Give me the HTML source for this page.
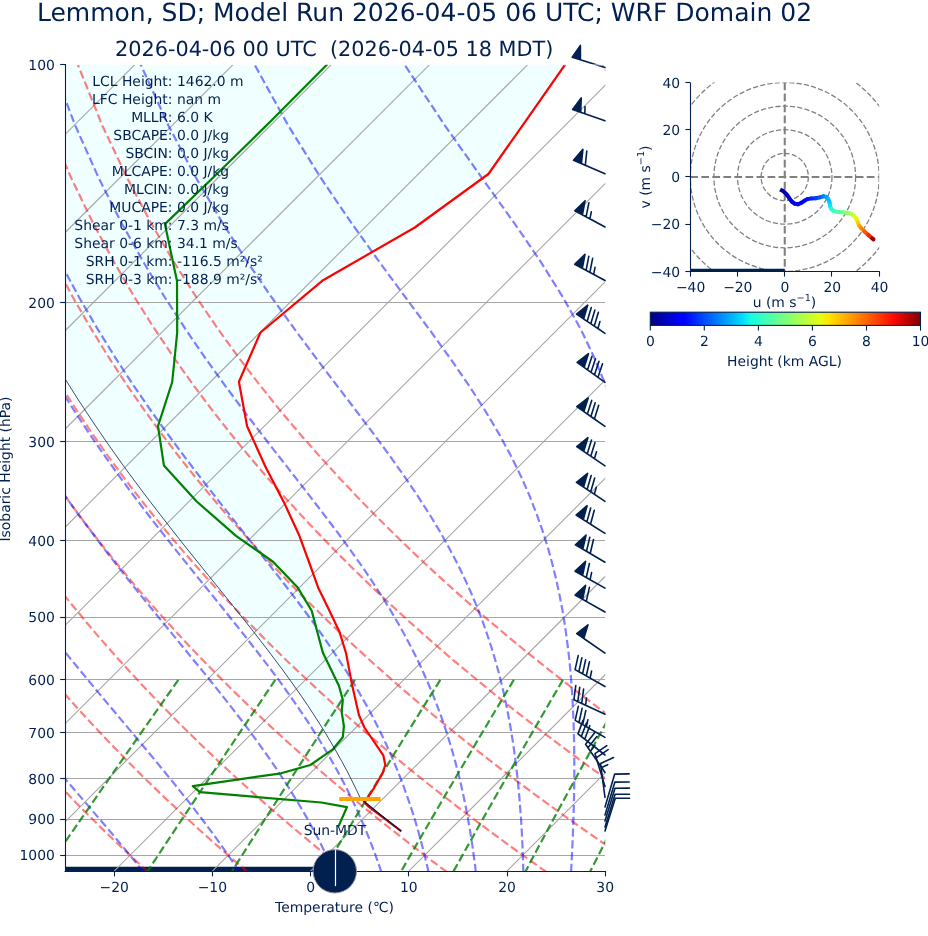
<!DOCTYPE html>
<html><head><meta charset="utf-8"><title>Skew-T</title><style>html,body{margin:0;padding:0;background:#fff}svg{display:block}text{text-rendering:geometricPrecision}</style></head><body>
<svg width="928" height="936" viewBox="0 0 928 936" font-family="DejaVu Sans, Liberation Sans, sans-serif" style="will-change:transform;opacity:0.9999">
<rect width="928" height="936" fill="#fff"/>
<defs><clipPath id="ax"><rect x="65.05" y="64.85" width="540.2" height="806.1999999999999"/></clipPath><clipPath id="hd"><rect x="690.3" y="82.5" width="188.9" height="188.9"/></clipPath><linearGradient id="jet" x1="0" x2="1" y1="0" y2="0"><stop offset="0" stop-color="#000080"/><stop offset="0.11" stop-color="#0000ff"/><stop offset="0.125" stop-color="#0000ff"/><stop offset="0.34" stop-color="#00dcfe"/><stop offset="0.375" stop-color="#17ffe0"/><stop offset="0.5" stop-color="#7dff7a"/><stop offset="0.625" stop-color="#e4ff13"/><stop offset="0.66" stop-color="#ffe600"/><stop offset="0.89" stop-color="#ff1300"/><stop offset="0.91" stop-color="#f10800"/><stop offset="1" stop-color="#800000"/></linearGradient></defs>
<g clip-path="url(#ax)">
<polygon points="565.5,64.0 525.8,120.8 488.4,174.0 414.8,227.5 323.1,280.2 260.5,332.5 238.9,381.7 247.1,426.2 265.1,466.0 284.0,502.4 299.4,535.8 309.0,562.0 318.1,587.4 329.1,610.0 339.4,631.7 346.0,653.0 352.0,684.4 358.9,715.0 364.4,727.5 383.3,755.3 385.3,765.0 382.5,773.3 374.2,787.8 367.1,798.5 360.5,798.5 356.1,789.2 351.5,779.9 346.8,770.6 341.8,761.4 336.6,752.1 331.2,742.8 325.7,733.5 319.9,724.2 313.9,714.9 307.8,705.6 301.5,696.3 295.0,687.1 288.4,677.8 281.6,668.5 274.6,659.2 267.6,649.9 260.4,640.6 253.2,631.3 245.9,622.1 238.5,612.8 231.0,603.5 223.6,594.2 216.1,584.9 208.6,575.6 201.1,566.3 193.6,557.0 186.2,547.8 178.8,538.5 171.5,529.2 164.3,519.9 157.1,510.6 149.9,501.3 142.9,492.0 136.0,482.8 129.1,473.5 122.3,464.2 115.7,454.9 109.1,445.6 102.7,436.3 96.3,427.0 90.1,417.7 84.0,408.5 77.9,399.2 72.0,389.9 66.2,380.6 60.5,371.3 55.0,362.0 49.5,352.7 44.1,343.5 38.9,334.2 33.8,324.9 28.7,315.6 23.8,306.3 19.0,297.0 14.3,287.7 9.7,278.4 5.2,269.2 0.8,259.9 -3.4,250.6 -7.6,241.3 -11.7,232.0 -15.7,222.7 -19.5,213.4 -23.3,204.2 -27.0,194.9 -30.5,185.6 -34.0,176.3 -37.4,167.0 -40.6,157.7 -43.8,148.4 -46.9,139.1 -49.9,129.9 -52.7,120.6 -55.5,111.3 -58.2,102.0 -60.9,92.7 -63.4,83.4 -65.8,74.1 -68.1,64.8" fill="#f0ffff"/>
<line x1="65.05" x2="335" y1="871.05" y2="871.05" stroke="#002050" stroke-width="8.6"/>
<line x1="65.05" x2="605.25" y1="302.5" y2="302.5" stroke="#a6a6a6" stroke-width="1.1"/>
<line x1="65.05" x2="605.25" y1="441.5" y2="441.5" stroke="#a6a6a6" stroke-width="1.1"/>
<line x1="65.05" x2="605.25" y1="540.5" y2="540.5" stroke="#a6a6a6" stroke-width="1.1"/>
<line x1="65.05" x2="605.25" y1="617.5" y2="617.5" stroke="#a6a6a6" stroke-width="1.1"/>
<line x1="65.05" x2="605.25" y1="679.5" y2="679.5" stroke="#a6a6a6" stroke-width="1.1"/>
<line x1="65.05" x2="605.25" y1="732.5" y2="732.5" stroke="#a6a6a6" stroke-width="1.1"/>
<line x1="65.05" x2="605.25" y1="778.5" y2="778.5" stroke="#a6a6a6" stroke-width="1.1"/>
<line x1="65.05" x2="605.25" y1="819.5" y2="819.5" stroke="#a6a6a6" stroke-width="1.1"/>
<line x1="65.05" x2="605.25" y1="855.5" y2="855.5" stroke="#a6a6a6" stroke-width="1.1"/>
<line x1="-868.0" y1="871.05" x2="-61.8" y2="64.85" stroke="#a6a6a6" stroke-width="1.1"/>
<line x1="-769.8" y1="871.05" x2="36.4" y2="64.85" stroke="#a6a6a6" stroke-width="1.1"/>
<line x1="-671.6" y1="871.05" x2="134.6" y2="64.85" stroke="#a6a6a6" stroke-width="1.1"/>
<line x1="-573.4" y1="871.05" x2="232.8" y2="64.85" stroke="#a6a6a6" stroke-width="1.1"/>
<line x1="-475.2" y1="871.05" x2="331.0" y2="64.85" stroke="#a6a6a6" stroke-width="1.1"/>
<line x1="-376.9" y1="871.05" x2="429.3" y2="64.85" stroke="#a6a6a6" stroke-width="1.1"/>
<line x1="-278.7" y1="871.05" x2="527.5" y2="64.85" stroke="#a6a6a6" stroke-width="1.1"/>
<line x1="-180.5" y1="871.05" x2="625.7" y2="64.85" stroke="#a6a6a6" stroke-width="1.1"/>
<line x1="-82.3" y1="871.05" x2="723.9" y2="64.85" stroke="#a6a6a6" stroke-width="1.1"/>
<line x1="15.9" y1="871.05" x2="822.1" y2="64.85" stroke="#a6a6a6" stroke-width="1.1"/>
<line x1="114.2" y1="871.05" x2="920.4" y2="64.85" stroke="#a6a6a6" stroke-width="1.1"/>
<line x1="212.4" y1="871.05" x2="1018.6" y2="64.85" stroke="#a6a6a6" stroke-width="1.1"/>
<line x1="310.6" y1="871.05" x2="1116.8" y2="64.85" stroke="#a6a6a6" stroke-width="1.1"/>
<line x1="408.8" y1="871.05" x2="1215.0" y2="64.85" stroke="#a6a6a6" stroke-width="1.1"/>
<line x1="507.0" y1="871.05" x2="1313.2" y2="64.85" stroke="#a6a6a6" stroke-width="1.1"/>
<line x1="605.2" y1="871.05" x2="1411.4" y2="64.85" stroke="#a6a6a6" stroke-width="1.1"/>
<line x1="703.5" y1="871.05" x2="1509.7" y2="64.85" stroke="#a6a6a6" stroke-width="1.1"/>
<polyline points="-51.1,872.0 -57.0,865.6 -63.0,859.1 -69.0,852.4 -75.1,845.7 -81.2,838.7 -87.4,831.7 -93.6,824.5 -99.9,817.1 -106.2,809.6 -112.6,801.9 -119.0,794.1 -125.5,786.0 -132.0,777.8 -138.6,769.3 -145.3,760.7 -152.0,751.8 -158.7,742.7 -165.5,733.3 -172.4,723.7 -179.4,713.8 -186.4,703.6 -193.5,693.1 -200.6,682.2 -207.8,671.0 -215.0,659.5 -222.4,647.5 -229.8,635.1 -237.2,622.2 -244.7,608.8 -252.3,594.9 -259.9,580.4 -267.6,565.2 -275.3,549.4 -283.1,532.7 -290.9,515.3 -298.7,496.9 -306.6,477.4 -314.4,456.8 -322.2,434.9 -329.9,411.5 -337.6,386.3 -345.0,359.2 -352.3,329.7 -359.2,297.5 -365.6,261.9 -371.3,222.2 -376.0,177.3 -379.2,125.7 -380.0,64.8" fill="none" stroke="#ff0000" stroke-opacity="0.5" stroke-width="2.2" stroke-dasharray="8.2 3.6"/>
<polyline points="48.5,872.0 42.1,865.6 35.5,859.1 29.0,852.4 22.3,845.7 15.7,838.7 8.9,831.7 2.1,824.5 -4.7,817.1 -11.6,809.6 -18.6,801.9 -25.7,794.1 -32.8,786.0 -39.9,777.8 -47.2,769.3 -54.5,760.7 -61.8,751.8 -69.3,742.7 -76.8,733.3 -84.4,723.7 -92.1,713.8 -99.8,703.6 -107.6,693.1 -115.5,682.2 -123.5,671.0 -131.6,659.5 -139.8,647.5 -148.0,635.1 -156.3,622.2 -164.7,608.8 -173.2,594.9 -181.8,580.4 -190.4,565.2 -199.2,549.4 -208.0,532.7 -216.9,515.3 -225.8,496.9 -234.8,477.4 -243.9,456.8 -253.0,434.9 -262.0,411.5 -271.1,386.3 -280.0,359.2 -288.9,329.7 -297.4,297.5 -305.7,261.9 -313.3,222.2 -320.2,177.3 -325.7,125.7 -329.1,64.8" fill="none" stroke="#ff0000" stroke-opacity="0.5" stroke-width="2.2" stroke-dasharray="8.2 3.6"/>
<polyline points="148.1,872.0 141.1,865.6 134.1,859.1 127.0,852.4 119.8,845.7 112.5,838.7 105.2,831.7 97.9,824.5 90.4,817.1 82.9,809.6 75.3,801.9 67.7,794.1 60.0,786.0 52.2,777.8 44.3,769.3 36.3,760.7 28.3,751.8 20.1,742.7 11.9,733.3 3.6,723.7 -4.8,713.8 -13.2,703.6 -21.8,693.1 -30.5,682.2 -39.3,671.0 -48.2,659.5 -57.1,647.5 -66.2,635.1 -75.4,622.2 -84.7,608.8 -94.1,594.9 -103.6,580.4 -113.3,565.2 -123.0,549.4 -132.9,532.7 -142.9,515.3 -152.9,496.9 -163.1,477.4 -173.4,456.8 -183.7,434.9 -194.1,411.5 -204.6,386.3 -215.0,359.2 -225.4,329.7 -235.7,297.5 -245.7,261.9 -255.4,222.2 -264.3,177.3 -272.2,125.7 -278.2,64.8" fill="none" stroke="#ff0000" stroke-opacity="0.5" stroke-width="2.2" stroke-dasharray="8.2 3.6"/>
<polyline points="247.7,872.0 240.2,865.6 232.6,859.1 224.9,852.4 217.2,845.7 209.4,838.7 201.5,831.7 193.6,824.5 185.6,817.1 177.5,809.6 169.3,801.9 161.0,794.1 152.7,786.0 144.2,777.8 135.7,769.3 127.1,760.7 118.4,751.8 109.6,742.7 100.7,733.3 91.7,723.7 82.5,713.8 73.3,703.6 64.0,693.1 54.5,682.2 45.0,671.0 35.3,659.5 25.5,647.5 15.6,635.1 5.5,622.2 -4.7,608.8 -15.0,594.9 -25.5,580.4 -36.1,565.2 -46.9,549.4 -57.8,532.7 -68.9,515.3 -80.1,496.9 -91.4,477.4 -102.9,456.8 -114.5,434.9 -126.3,411.5 -138.1,386.3 -150.0,359.2 -162.0,329.7 -174.0,297.5 -185.8,261.9 -197.4,222.2 -208.4,177.3 -218.6,125.7 -227.3,64.8" fill="none" stroke="#ff0000" stroke-opacity="0.5" stroke-width="2.2" stroke-dasharray="8.2 3.6"/>
<polyline points="347.3,872.0 339.3,865.6 331.1,859.1 322.9,852.4 314.7,845.7 306.3,838.7 297.9,831.7 289.3,824.5 280.7,817.1 272.0,809.6 263.2,801.9 254.4,794.1 245.4,786.0 236.3,777.8 227.2,769.3 217.9,760.7 208.5,751.8 199.0,742.7 189.4,733.3 179.7,723.7 169.9,713.8 159.9,703.6 149.8,693.1 139.6,682.2 129.2,671.0 118.7,659.5 108.1,647.5 97.3,635.1 86.4,622.2 75.3,608.8 64.0,594.9 52.6,580.4 41.0,565.2 29.3,549.4 17.3,532.7 5.2,515.3 -7.2,496.9 -19.7,477.4 -32.4,456.8 -45.3,434.9 -58.4,411.5 -71.6,386.3 -85.1,359.2 -98.6,329.7 -112.2,297.5 -125.9,261.9 -139.4,222.2 -152.6,177.3 -165.1,125.7 -176.5,64.8" fill="none" stroke="#ff0000" stroke-opacity="0.5" stroke-width="2.2" stroke-dasharray="8.2 3.6"/>
<polyline points="446.9,872.0 438.3,865.6 429.7,859.1 420.9,852.4 412.1,845.7 403.2,838.7 394.2,831.7 385.1,824.5 375.9,817.1 366.6,809.6 357.2,801.9 347.7,794.1 338.1,786.0 328.4,777.8 318.6,769.3 308.7,760.7 298.6,751.8 288.4,742.7 278.1,733.3 267.7,723.7 257.2,713.8 246.5,703.6 235.6,693.1 224.6,682.2 213.5,671.0 202.2,659.5 190.7,647.5 179.1,635.1 167.3,622.2 155.3,608.8 143.1,594.9 130.7,580.4 118.2,565.2 105.4,549.4 92.4,532.7 79.2,515.3 65.7,496.9 52.0,477.4 38.1,456.8 23.9,434.9 9.5,411.5 -5.2,386.3 -20.1,359.2 -35.2,329.7 -50.5,297.5 -65.9,261.9 -81.4,222.2 -96.7,177.3 -111.6,125.7 -125.6,64.8" fill="none" stroke="#ff0000" stroke-opacity="0.5" stroke-width="2.2" stroke-dasharray="8.2 3.6"/>
<polyline points="546.5,872.0 537.4,865.6 528.2,859.1 518.9,852.4 509.5,845.7 500.1,838.7 490.5,831.7 480.8,824.5 471.0,817.1 461.2,809.6 451.2,801.9 441.1,794.1 430.8,786.0 420.5,777.8 410.0,769.3 399.4,760.7 388.7,751.8 377.9,742.7 366.9,733.3 355.8,723.7 344.5,713.8 333.0,703.6 321.4,693.1 309.7,682.2 297.7,671.0 285.6,659.5 273.3,647.5 260.9,635.1 248.2,622.2 235.3,608.8 222.2,594.9 208.9,580.4 195.3,565.2 181.5,549.4 167.5,532.7 153.2,515.3 138.6,496.9 123.7,477.4 108.6,456.8 93.1,434.9 77.4,411.5 61.3,386.3 44.9,359.2 28.2,329.7 11.3,297.5 -6.0,261.9 -23.4,222.2 -40.8,177.3 -58.1,125.7 -74.7,64.8" fill="none" stroke="#ff0000" stroke-opacity="0.5" stroke-width="2.2" stroke-dasharray="8.2 3.6"/>
<polyline points="646.1,872.0 636.5,865.6 626.7,859.1 616.9,852.4 607.0,845.7 596.9,838.7 586.8,831.7 576.5,824.5 566.2,817.1 555.7,809.6 545.1,801.9 534.4,794.1 523.6,786.0 512.6,777.8 501.5,769.3 490.2,760.7 478.8,751.8 467.3,742.7 455.6,733.3 443.8,723.7 431.8,713.8 419.6,703.6 407.3,693.1 394.7,682.2 382.0,671.0 369.1,659.5 356.0,647.5 342.6,635.1 329.1,622.2 315.3,608.8 301.3,594.9 287.0,580.4 272.5,565.2 257.7,549.4 242.6,532.7 227.2,515.3 211.5,496.9 195.5,477.4 179.1,456.8 162.4,434.9 145.3,411.5 127.8,386.3 109.9,359.2 91.7,329.7 73.0,297.5 54.0,261.9 34.6,222.2 15.0,177.3 -4.6,125.7 -23.9,64.8" fill="none" stroke="#ff0000" stroke-opacity="0.5" stroke-width="2.2" stroke-dasharray="8.2 3.6"/>
<polyline points="745.7,872.0 735.5,865.6 725.3,859.1 714.9,852.4 704.4,845.7 693.8,838.7 683.1,831.7 672.3,824.5 661.3,817.1 650.3,809.6 639.1,801.9 627.7,794.1 616.3,786.0 604.7,777.8 592.9,769.3 581.0,760.7 569.0,751.8 556.7,742.7 544.4,733.3 531.8,723.7 519.1,713.8 506.2,703.6 493.1,693.1 479.8,682.2 466.3,671.0 452.5,659.5 438.6,647.5 424.4,635.1 410.0,622.2 395.3,608.8 380.4,594.9 365.1,580.4 349.6,565.2 333.8,549.4 317.7,532.7 301.2,515.3 284.4,496.9 267.2,477.4 249.6,456.8 231.6,434.9 213.2,411.5 194.3,386.3 174.9,359.2 155.1,329.7 134.7,297.5 113.9,261.9 92.6,222.2 70.9,177.3 48.9,125.7 27.0,64.8" fill="none" stroke="#ff0000" stroke-opacity="0.5" stroke-width="2.2" stroke-dasharray="8.2 3.6"/>
<polyline points="845.3,872.0 834.6,865.6 823.8,859.1 812.9,852.4 801.8,845.7 790.7,838.7 779.4,831.7 768.0,824.5 756.5,817.1 744.8,809.6 733.0,801.9 721.1,794.1 709.0,786.0 696.7,777.8 684.4,769.3 671.8,760.7 659.1,751.8 646.2,742.7 633.1,733.3 619.8,723.7 606.4,713.8 592.7,703.6 578.9,693.1 564.8,682.2 550.5,671.0 536.0,659.5 521.2,647.5 506.2,635.1 490.9,622.2 475.3,608.8 459.4,594.9 443.3,580.4 426.8,565.2 410.0,549.4 392.8,532.7 375.2,515.3 357.3,496.9 338.9,477.4 320.1,456.8 300.8,434.9 281.0,411.5 260.8,386.3 239.9,359.2 218.5,329.7 196.5,297.5 173.8,261.9 150.6,222.2 126.8,177.3 102.4,125.7 77.9,64.8" fill="none" stroke="#ff0000" stroke-opacity="0.5" stroke-width="2.2" stroke-dasharray="8.2 3.6"/>
<polyline points="-52.0,872.0 -57.5,865.6 -63.2,859.1 -68.9,852.4 -74.7,845.7 -80.5,838.7 -86.5,831.7 -92.5,824.5 -98.6,817.1 -104.7,809.6 -111.0,801.9 -117.2,794.1 -123.6,786.0 -130.1,777.8 -136.6,769.3 -143.1,760.7 -149.8,751.8 -156.5,742.7 -163.3,733.3 -170.1,723.7 -177.1,713.8 -184.0,703.6 -191.1,693.1 -198.2,682.2 -205.4,671.0 -212.7,659.5 -220.0,647.5 -227.4,635.1 -234.9,622.2 -242.4,608.8 -250.0,594.9 -257.7,580.4 -265.4,565.2 -273.1,549.4 -280.9,532.7 -288.8,515.3 -296.6,496.9 -304.5,477.4 -312.3,456.8 -320.2,434.9 -328.0,411.5 -335.6,386.3 -343.2,359.2 -350.4,329.7 -357.4,297.5 -363.9,261.9 -369.7,222.2 -374.4,177.3 -377.6,125.7 -378.5,64.8" fill="none" stroke="#0000ff" stroke-opacity="0.5" stroke-width="2.2" stroke-dasharray="8.2 3.6"/>
<polyline points="46.4,872.0 40.8,865.6 35.1,859.1 29.3,852.4 23.4,845.7 17.3,838.7 11.2,831.7 4.9,824.5 -1.4,817.1 -7.9,809.6 -14.5,801.9 -21.1,794.1 -27.9,786.0 -34.8,777.8 -41.8,769.3 -48.9,760.7 -56.1,751.8 -63.4,742.7 -70.8,733.3 -78.2,723.7 -85.8,713.8 -93.5,703.6 -101.3,693.1 -109.2,682.2 -117.2,671.0 -125.2,659.5 -133.4,647.5 -141.7,635.1 -150.0,622.2 -158.5,608.8 -167.0,594.9 -175.6,580.4 -184.4,565.2 -193.2,549.4 -202.1,532.7 -211.0,515.3 -220.1,496.9 -229.2,477.4 -238.3,456.8 -247.5,434.9 -256.7,411.5 -265.8,386.3 -274.9,359.2 -283.9,329.7 -292.6,297.5 -300.9,261.9 -308.8,222.2 -315.8,177.3 -321.4,125.7 -325.1,64.8" fill="none" stroke="#0000ff" stroke-opacity="0.5" stroke-width="2.2" stroke-dasharray="8.2 3.6"/>
<polyline points="143.6,872.0 138.4,865.6 133.1,859.1 127.6,852.4 122.0,845.7 116.2,838.7 110.3,831.7 104.2,824.5 97.9,817.1 91.5,809.6 84.9,801.9 78.2,794.1 71.3,786.0 64.2,777.8 57.0,769.3 49.6,760.7 42.1,751.8 34.4,742.7 26.6,733.3 18.6,723.7 10.4,713.8 2.2,703.6 -6.3,693.1 -14.8,682.2 -23.5,671.0 -32.4,659.5 -41.4,647.5 -50.5,635.1 -59.7,622.2 -69.1,608.8 -78.7,594.9 -88.3,580.4 -98.1,565.2 -108.0,549.4 -118.1,532.7 -128.2,515.3 -138.5,496.9 -148.9,477.4 -159.4,456.8 -170.0,434.9 -180.7,411.5 -191.4,386.3 -202.2,359.2 -212.9,329.7 -223.5,297.5 -233.9,261.9 -243.9,222.2 -253.2,177.3 -261.6,125.7 -268.1,64.8" fill="none" stroke="#0000ff" stroke-opacity="0.5" stroke-width="2.2" stroke-dasharray="8.2 3.6"/>
<polyline points="239.4,872.0 235.2,865.6 230.8,859.1 226.2,852.4 221.5,845.7 216.5,838.7 211.4,831.7 206.0,824.5 200.5,817.1 194.7,809.6 188.7,801.9 182.5,794.1 176.1,786.0 169.4,777.8 162.5,769.3 155.4,760.7 148.0,751.8 140.4,742.7 132.6,733.3 124.5,723.7 116.2,713.8 107.6,703.6 98.9,693.1 89.8,682.2 80.6,671.0 71.1,659.5 61.5,647.5 51.6,635.1 41.5,622.2 31.1,608.8 20.6,594.9 9.9,580.4 -1.0,565.2 -12.1,549.4 -23.4,532.7 -34.9,515.3 -46.6,496.9 -58.4,477.4 -70.4,456.8 -82.6,434.9 -95.0,411.5 -107.5,386.3 -120.1,359.2 -132.8,329.7 -145.5,297.5 -158.2,261.9 -170.6,222.2 -182.7,177.3 -194.0,125.7 -203.9,64.8" fill="none" stroke="#0000ff" stroke-opacity="0.5" stroke-width="2.2" stroke-dasharray="8.2 3.6"/>
<polyline points="334.2,872.0 331.3,865.6 328.2,859.1 325.0,852.4 321.7,845.7 318.2,838.7 314.4,831.7 310.5,824.5 306.4,817.1 302.1,809.6 297.5,801.9 292.7,794.1 287.7,786.0 282.4,777.8 276.8,769.3 270.9,760.7 264.6,751.8 258.1,742.7 251.3,733.3 244.1,723.7 236.5,713.8 228.6,703.6 220.3,693.1 211.6,682.2 202.6,671.0 193.1,659.5 183.3,647.5 173.2,635.1 162.6,622.2 151.7,608.8 140.4,594.9 128.8,580.4 116.9,565.2 104.6,549.4 92.0,532.7 79.0,515.3 65.8,496.9 52.3,477.4 38.5,456.8 24.4,434.9 10.0,411.5 -4.6,386.3 -19.5,359.2 -34.7,329.7 -50.0,297.5 -65.4,261.9 -80.9,222.2 -96.2,177.3 -111.2,125.7 -125.2,64.8" fill="none" stroke="#0000ff" stroke-opacity="0.5" stroke-width="2.2" stroke-dasharray="8.2 3.6"/>
<polyline points="381.3,872.0 379.2,865.6 376.9,859.1 374.5,852.4 371.9,845.7 369.2,838.7 366.4,831.7 363.4,824.5 360.2,817.1 356.8,809.6 353.2,801.9 349.4,794.1 345.4,786.0 341.1,777.8 336.5,769.3 331.7,760.7 326.5,751.8 321.1,742.7 315.2,733.3 309.1,723.7 302.5,713.8 295.5,703.6 288.1,693.1 280.3,682.2 272.0,671.0 263.2,659.5 253.9,647.5 244.2,635.1 233.9,622.2 223.2,608.8 212.0,594.9 200.2,580.4 188.0,565.2 175.3,549.4 162.2,532.7 148.6,515.3 134.6,496.9 120.2,477.4 105.4,456.8 90.2,434.9 74.7,411.5 58.7,386.3 42.5,359.2 25.9,329.7 9.0,297.5 -8.2,261.9 -25.5,222.2 -42.9,177.3 -60.1,125.7 -76.6,64.8" fill="none" stroke="#0000ff" stroke-opacity="0.5" stroke-width="2.2" stroke-dasharray="8.2 3.6"/>
<polyline points="428.5,872.0 427.1,865.6 425.5,859.1 423.9,852.4 422.2,845.7 420.3,838.7 418.4,831.7 416.3,824.5 414.1,817.1 411.7,809.6 409.1,801.9 406.4,794.1 403.5,786.0 400.4,777.8 397.0,769.3 393.4,760.7 389.6,751.8 385.5,742.7 381.0,733.3 376.2,723.7 371.1,713.8 365.5,703.6 359.5,693.1 353.1,682.2 346.2,671.0 338.7,659.5 330.7,647.5 322.2,635.1 313.0,622.2 303.1,608.8 292.6,594.9 281.4,580.4 269.6,565.2 257.0,549.4 243.8,532.7 230.0,515.3 215.5,496.9 200.3,477.4 184.6,456.8 168.3,434.9 151.5,411.5 134.1,386.3 116.3,359.2 98.0,329.7 79.2,297.5 60.0,261.9 40.5,222.2 20.7,177.3 0.8,125.7 -18.7,64.8" fill="none" stroke="#0000ff" stroke-opacity="0.5" stroke-width="2.2" stroke-dasharray="8.2 3.6"/>
<polyline points="475.8,872.0 475.1,865.6 474.2,859.1 473.3,852.4 472.4,845.7 471.3,838.7 470.2,831.7 469.0,824.5 467.7,817.1 466.3,809.6 464.8,801.9 463.1,794.1 461.3,786.0 459.4,777.8 457.3,769.3 455.0,760.7 452.5,751.8 449.8,742.7 446.9,733.3 443.7,723.7 440.2,713.8 436.4,703.6 432.3,693.1 427.7,682.2 422.7,671.0 417.3,659.5 411.3,647.5 404.7,635.1 397.5,622.2 389.6,608.8 380.9,594.9 371.5,580.4 361.2,565.2 349.9,549.4 337.7,532.7 324.6,515.3 310.4,496.9 295.3,477.4 279.2,456.8 262.2,434.9 244.3,411.5 225.6,386.3 206.1,359.2 185.9,329.7 164.9,297.5 143.3,261.9 121.1,222.2 98.4,177.3 75.3,125.7 52.1,64.8" fill="none" stroke="#0000ff" stroke-opacity="0.5" stroke-width="2.2" stroke-dasharray="8.2 3.6"/>
<polyline points="523.3,872.0 523.2,865.6 523.0,859.1 522.7,852.4 522.5,845.7 522.1,838.7 521.8,831.7 521.4,824.5 520.9,817.1 520.3,809.6 519.7,801.9 519.1,794.1 518.3,786.0 517.5,777.8 516.5,769.3 515.5,760.7 514.3,751.8 513.0,742.7 511.5,733.3 509.9,723.7 508.0,713.8 506.0,703.6 503.7,693.1 501.2,682.2 498.3,671.0 495.1,659.5 491.5,647.5 487.4,635.1 482.9,622.2 477.8,608.8 472.0,594.9 465.5,580.4 458.2,565.2 449.9,549.4 440.6,532.7 430.1,515.3 418.3,496.9 405.1,477.4 390.5,456.8 374.4,434.9 356.7,411.5 337.5,386.3 316.9,359.2 295.0,329.7 271.8,297.5 247.4,261.9 222.1,222.2 195.7,177.3 168.5,125.7 140.8,64.8" fill="none" stroke="#0000ff" stroke-opacity="0.5" stroke-width="2.2" stroke-dasharray="8.2 3.6"/>
<polyline points="571.1,872.0 571.4,865.6 571.7,859.1 572.1,852.4 572.4,845.7 572.7,838.7 573.0,831.7 573.2,824.5 573.5,817.1 573.7,809.6 573.9,801.9 574.1,794.1 574.2,786.0 574.3,777.8 574.3,769.3 574.3,760.7 574.2,751.8 574.1,742.7 573.9,733.3 573.6,723.7 573.2,713.8 572.7,703.6 572.1,693.1 571.3,682.2 570.4,671.0 569.3,659.5 567.9,647.5 566.3,635.1 564.4,622.2 562.2,608.8 559.5,594.9 556.4,580.4 552.7,565.2 548.4,549.4 543.2,532.7 537.1,515.3 530.0,496.9 521.5,477.4 511.4,456.8 499.6,434.9 485.7,411.5 469.5,386.3 450.8,359.2 429.5,329.7 405.6,297.5 379.3,261.9 350.9,222.2 320.4,177.3 288.3,125.7 254.7,64.8" fill="none" stroke="#0000ff" stroke-opacity="0.5" stroke-width="2.2" stroke-dasharray="8.2 3.6"/>
<polyline points="619.0,872.0 619.8,865.6 620.6,859.1 621.4,852.4 622.2,845.7 623.0,838.7 623.8,831.7 624.6,824.5 625.5,817.1 626.3,809.6 627.1,801.9 628.0,794.1 628.8,786.0 629.7,777.8 630.5,769.3 631.3,760.7 632.2,751.8 633.0,742.7 633.8,733.3 634.6,723.7 635.3,713.8 636.1,703.6 636.8,693.1 637.4,682.2 638.0,671.0 638.6,659.5 639.0,647.5 639.4,635.1 639.7,622.2 639.8,608.8 639.7,594.9 639.5,580.4 639.0,565.2 638.2,549.4 637.0,532.7 635.3,515.3 633.1,496.9 630.1,477.4 626.2,456.8 621.1,434.9 614.5,411.5 606.0,386.3 595.0,359.2 581.0,329.7 563.1,297.5 540.8,261.9 513.6,222.2 481.5,177.3 445.0,125.7 404.7,64.8" fill="none" stroke="#0000ff" stroke-opacity="0.5" stroke-width="2.2" stroke-dasharray="8.2 3.6"/>
<polyline points="667.2,872.0 668.3,865.6 669.5,859.1 670.7,852.4 671.9,845.7 673.1,838.7 674.3,831.7 675.6,824.5 676.9,817.1 678.2,809.6 679.5,801.9 680.9,794.1 682.3,786.0 683.7,777.8 685.2,769.3 686.7,760.7 688.2,751.8 689.7,742.7 691.3,733.3 692.9,723.7 694.6,713.8 696.2,703.6 697.9,693.1 699.6,682.2 701.4,671.0 703.2,659.5 704.9,647.5 706.8,635.1 708.6,622.2 710.4,608.8 712.3,594.9 714.1,580.4 715.9,565.2 717.6,549.4 719.3,532.7 720.9,515.3 722.3,496.9 723.6,477.4 724.6,456.8 725.1,434.9 725.2,411.5 724.5,386.3 722.7,359.2 719.4,329.7 713.9,297.5 705.3,261.9 691.9,222.2 671.8,177.3 642.5,125.7 602.3,64.8" fill="none" stroke="#0000ff" stroke-opacity="0.5" stroke-width="2.2" stroke-dasharray="8.2 3.6"/>
<polyline points="178.3,679.9 172.2,688.7 166.1,697.2 160.3,705.6 154.6,713.7 149.0,721.6 143.5,729.4 138.2,737.0 133.0,744.5 127.9,751.7 122.9,758.9 118.0,765.8 113.3,772.7 108.6,779.4 104.0,786.0 99.5,792.4 95.1,798.8 90.8,805.0 86.6,811.1 82.4,817.1 78.3,823.0 74.3,828.8 70.3,834.5 66.5,840.1 62.6,845.6 58.9,851.1 55.2,856.4 51.6,861.7 48.0,866.9 44.5,872.0" fill="none" stroke="#008000" stroke-opacity="0.8" stroke-width="2.2" stroke-dasharray="8.2 3.6"/>
<polyline points="275.3,679.9 269.4,688.7 263.6,697.2 258.0,705.6 252.5,713.7 247.2,721.6 241.9,729.4 236.8,737.0 231.8,744.5 227.0,751.7 222.2,758.9 217.5,765.8 212.9,772.7 208.5,779.4 204.1,786.0 199.8,792.4 195.6,798.8 191.4,805.0 187.4,811.1 183.4,817.1 179.5,823.0 175.6,828.8 171.9,834.5 168.1,840.1 164.5,845.6 160.9,851.1 157.4,856.4 153.9,861.7 150.5,866.9 147.1,872.0" fill="none" stroke="#008000" stroke-opacity="0.8" stroke-width="2.2" stroke-dasharray="8.2 3.6"/>
<polyline points="354.9,679.9 349.1,688.7 343.6,697.2 338.2,705.6 332.9,713.7 327.7,721.6 322.7,729.4 317.8,737.0 313.0,744.5 308.3,751.7 303.7,758.9 299.2,765.8 294.8,772.7 290.5,779.4 286.2,786.0 282.1,792.4 278.1,798.8 274.1,805.0 270.2,811.1 266.3,817.1 262.6,823.0 258.9,828.8 255.3,834.5 251.7,840.1 248.2,845.6 244.8,851.1 241.4,856.4 238.0,861.7 234.8,866.9 231.5,872.0" fill="none" stroke="#008000" stroke-opacity="0.8" stroke-width="2.2" stroke-dasharray="8.2 3.6"/>
<polyline points="440.3,679.9 434.8,688.7 429.4,697.2 424.2,705.6 419.2,713.7 414.2,721.6 409.4,729.4 404.7,737.0 400.1,744.5 395.6,751.7 391.2,758.9 386.9,765.8 382.7,772.7 378.6,779.4 374.6,786.0 370.6,792.4 366.7,798.8 362.9,805.0 359.2,811.1 355.6,817.1 352.0,823.0 348.4,828.8 345.0,834.5 341.6,840.1 338.2,845.6 335.0,851.1 331.7,856.4 328.5,861.7 325.4,866.9 322.3,872.0" fill="none" stroke="#008000" stroke-opacity="0.8" stroke-width="2.2" stroke-dasharray="8.2 3.6"/>
<polyline points="513.8,679.9 508.5,688.7 503.4,697.2 498.4,705.6 493.5,713.7 488.8,721.6 484.2,729.4 479.6,737.0 475.2,744.5 470.9,751.7 466.7,758.9 462.6,765.8 458.5,772.7 454.6,779.4 450.7,786.0 446.9,792.4 443.2,798.8 439.6,805.0 436.0,811.1 432.5,817.1 429.1,823.0 425.7,828.8 422.4,834.5 419.1,840.1 415.9,845.6 412.8,851.1 409.7,856.4 406.6,861.7 403.7,866.9 400.7,872.0" fill="none" stroke="#008000" stroke-opacity="0.8" stroke-width="2.2" stroke-dasharray="8.2 3.6"/>
<polyline points="562.9,679.9 557.8,688.7 552.8,697.2 547.9,705.6 543.2,713.7 538.6,721.6 534.1,729.4 529.7,737.0 525.4,744.5 521.2,751.7 517.1,758.9 513.1,765.8 509.2,772.7 505.4,779.4 501.6,786.0 497.9,792.4 494.3,798.8 490.8,805.0 487.3,811.1 483.9,817.1 480.6,823.0 477.3,828.8 474.1,834.5 471.0,840.1 467.9,845.6 464.8,851.1 461.8,856.4 458.9,861.7 456.0,866.9 453.1,872.0" fill="none" stroke="#008000" stroke-opacity="0.8" stroke-width="2.2" stroke-dasharray="8.2 3.6"/>
<polyline points="630.2,679.9 625.3,688.7 620.5,697.2 615.9,705.6 611.3,713.7 606.9,721.6 602.6,729.4 598.4,737.0 594.3,744.5 590.3,751.7 586.3,758.9 582.5,765.8 578.7,772.7 575.1,779.4 571.5,786.0 568.0,792.4 564.5,798.8 561.1,805.0 557.8,811.1 554.6,817.1 551.4,823.0 548.3,828.8 545.2,834.5 542.2,840.1 539.2,845.6 536.3,851.1 533.4,856.4 530.6,861.7 527.9,866.9 525.2,872.0" fill="none" stroke="#008000" stroke-opacity="0.8" stroke-width="2.2" stroke-dasharray="8.2 3.6"/>
<polyline points="690.7,679.9 686.0,688.7 681.4,697.2 676.9,705.6 672.5,713.7 668.3,721.6 664.1,729.4 660.1,737.0 656.2,744.5 652.3,751.7 648.5,758.9 644.9,765.8 641.3,772.7 637.7,779.4 634.3,786.0 630.9,792.4 627.6,798.8 624.4,805.0 621.2,811.1 618.1,817.1 615.0,823.0 612.0,828.8 609.1,834.5 606.2,840.1 603.4,845.6 600.6,851.1 597.9,856.4 595.2,861.7 592.5,866.9 589.9,872.0" fill="none" stroke="#008000" stroke-opacity="0.8" stroke-width="2.2" stroke-dasharray="8.2 3.6"/>
<polyline points="734.9,679.9 730.3,688.7 725.8,697.2 721.4,705.6 717.2,713.7 713.1,721.6 709.1,729.4 705.2,737.0 701.3,744.5 697.6,751.7 693.9,758.9 690.4,765.8 686.9,772.7 683.5,779.4 680.2,786.0 676.9,792.4 673.7,798.8 670.6,805.0 667.5,811.1 664.5,817.1 661.5,823.0 658.6,828.8 655.8,834.5 653.0,840.1 650.3,845.6 647.6,851.1 644.9,856.4 642.3,861.7 639.8,866.9 637.3,872.0" fill="none" stroke="#008000" stroke-opacity="0.8" stroke-width="2.2" stroke-dasharray="8.2 3.6"/>
<polyline points="565.5,64.0 525.8,120.8 488.4,174.0 414.8,227.5 323.1,280.2 260.5,332.5 238.9,381.7 247.1,426.2 265.1,466.0 284.0,502.4 299.4,535.8 309.0,562.0 318.1,587.4 329.1,610.0 339.4,631.7 346.0,653.0 352.0,684.4 358.9,715.0 364.4,727.5 383.3,755.3 385.3,765.0 382.5,773.3 374.2,787.8 364.4,802.5 368.6,806.7 401.2,831.2" fill="none" stroke="#ff0000" stroke-width="2.2" stroke-linejoin="round"/>
<polyline points="327.6,64.0 271.2,120.8 216.8,174.0 164.9,224.1 177.0,281.0 177.2,332.5 172.2,382.0 158.0,426.2 163.9,465.4 196.7,501.5 236.0,535.8 273.3,562.0 297.7,587.6 311.7,610.8 322.8,652.5 338.9,685.8 342.8,699.7 341.7,712.2 343.9,726.1 342.8,737.2 332.5,749.7 310.3,765.0 281.1,773.3 192.8,786.1 200.0,792.2 321.4,802.5 346.9,807.2 338.6,826.1" fill="none" stroke="#008000" stroke-width="2.2" stroke-linejoin="round"/>
<polyline points="401.2,831.2 396.8,827.7 392.3,824.2 387.8,820.6 383.3,817.0 378.8,813.4 374.3,809.7 369.7,806.0 365.1,802.3 360.5,798.5 356.1,789.2 351.5,779.9 346.8,770.6 341.8,761.4 336.6,752.1 331.2,742.8 325.7,733.5 319.9,724.2 313.9,714.9 307.8,705.6 301.5,696.3 295.0,687.1 288.4,677.8 281.6,668.5 274.6,659.2 267.6,649.9 260.4,640.6 253.2,631.3 245.9,622.1 238.5,612.8 231.0,603.5 223.6,594.2 216.1,584.9 208.6,575.6 201.1,566.3 193.6,557.0 186.2,547.8 178.8,538.5 171.5,529.2 164.3,519.9 157.1,510.6 149.9,501.3 142.9,492.0 136.0,482.8 129.1,473.5 122.3,464.2 115.7,454.9 109.1,445.6 102.7,436.3 96.3,427.0 90.1,417.7 84.0,408.5 77.9,399.2 72.0,389.9 66.2,380.6 60.5,371.3 55.0,362.0 49.5,352.7 44.1,343.5 38.9,334.2 33.8,324.9 28.7,315.6 23.8,306.3 19.0,297.0 14.3,287.7 9.7,278.4 5.2,269.2 0.8,259.9 -3.4,250.6 -7.6,241.3 -11.7,232.0 -15.7,222.7 -19.5,213.4 -23.3,204.2 -27.0,194.9 -30.5,185.6 -34.0,176.3 -37.4,167.0 -40.6,157.7 -43.8,148.4 -46.9,139.1 -49.9,129.9 -52.7,120.6 -55.5,111.3 -58.2,102.0 -60.9,92.7 -63.4,83.4 -65.8,74.1 -68.1,64.8" fill="none" stroke="#002050" stroke-width="0.8"/>
<polyline points="401.2,831.2 396.8,827.7 392.3,824.2 387.8,820.6 383.3,817.0 378.8,813.4 374.3,809.7 369.7,806.0 365.1,802.3 360.5,798.5" fill="none" stroke="#10183c" stroke-width="1.3"/>
<line x1="339.2" x2="380.6" y1="798.9" y2="798.9" stroke="#ffa500" stroke-width="4"/>
</g>
<line x1="65.5" x2="65.5" y1="63.95" y2="871.55" stroke="#002050" stroke-width="1.1"/>
<line x1="64.55" x2="606.00" y1="871.5" y2="871.5" stroke="#002050" stroke-width="1.1"/>
<line x1="60.19" x2="65.05" y1="64.5" y2="64.5" stroke="#002050" stroke-width="1.1"/>
<text x="54.85" y="69.8" font-size="13.9" fill="#002050" text-anchor="end">100</text>
<line x1="60.19" x2="65.05" y1="302.5" y2="302.5" stroke="#002050" stroke-width="1.1"/>
<text x="54.85" y="307.8" font-size="13.9" fill="#002050" text-anchor="end">200</text>
<line x1="60.19" x2="65.05" y1="441.5" y2="441.5" stroke="#002050" stroke-width="1.1"/>
<text x="54.85" y="447.0" font-size="13.9" fill="#002050" text-anchor="end">300</text>
<line x1="60.19" x2="65.05" y1="540.5" y2="540.5" stroke="#002050" stroke-width="1.1"/>
<text x="54.85" y="545.7" font-size="13.9" fill="#002050" text-anchor="end">400</text>
<line x1="60.19" x2="65.05" y1="617.5" y2="617.5" stroke="#002050" stroke-width="1.1"/>
<text x="54.85" y="622.3" font-size="13.9" fill="#002050" text-anchor="end">500</text>
<line x1="60.19" x2="65.05" y1="679.5" y2="679.5" stroke="#002050" stroke-width="1.1"/>
<text x="54.85" y="684.9" font-size="13.9" fill="#002050" text-anchor="end">600</text>
<line x1="60.19" x2="65.05" y1="732.5" y2="732.5" stroke="#002050" stroke-width="1.1"/>
<text x="54.85" y="737.8" font-size="13.9" fill="#002050" text-anchor="end">700</text>
<line x1="60.19" x2="65.05" y1="778.5" y2="778.5" stroke="#002050" stroke-width="1.1"/>
<text x="54.85" y="783.7" font-size="13.9" fill="#002050" text-anchor="end">800</text>
<line x1="60.19" x2="65.05" y1="819.5" y2="819.5" stroke="#002050" stroke-width="1.1"/>
<text x="54.85" y="824.1" font-size="13.9" fill="#002050" text-anchor="end">900</text>
<line x1="60.19" x2="65.05" y1="855.5" y2="855.5" stroke="#002050" stroke-width="1.1"/>
<text x="54.85" y="860.2" font-size="13.9" fill="#002050" text-anchor="end">1000</text>
<line x1="114.5" x2="114.5" y1="871.05" y2="876.35" stroke="#002050" stroke-width="1.1"/>
<text x="114.2" y="891.9" font-size="13.9" fill="#002050" text-anchor="middle">−20</text>
<line x1="212.5" x2="212.5" y1="871.05" y2="876.35" stroke="#002050" stroke-width="1.1"/>
<text x="212.4" y="891.9" font-size="13.9" fill="#002050" text-anchor="middle">−10</text>
<line x1="310.5" x2="310.5" y1="871.05" y2="876.35" stroke="#002050" stroke-width="1.1"/>
<text x="310.6" y="891.9" font-size="13.9" fill="#002050" text-anchor="middle">0</text>
<line x1="408.5" x2="408.5" y1="871.05" y2="876.35" stroke="#002050" stroke-width="1.1"/>
<text x="408.8" y="891.9" font-size="13.9" fill="#002050" text-anchor="middle">10</text>
<line x1="507.5" x2="507.5" y1="871.05" y2="876.35" stroke="#002050" stroke-width="1.1"/>
<text x="507.0" y="891.9" font-size="13.9" fill="#002050" text-anchor="middle">20</text>
<line x1="605.5" x2="605.5" y1="871.05" y2="876.35" stroke="#002050" stroke-width="1.1"/>
<text x="605.2" y="891.9" font-size="13.9" fill="#002050" text-anchor="middle">30</text>
<text x="334.5" y="911.5" font-size="13.9" fill="#002050" text-anchor="middle">Temperature (℃)</text>
<text transform="translate(10.4,469) rotate(-90)" font-size="13.9" fill="#002050" text-anchor="middle">Isobaric Height (hPa)</text>
<text x="424.5" y="21.1" font-size="25" fill="#002050" text-anchor="middle">Lemmon, SD; Model Run 2026-04-05 06 UTC; WRF Domain 02</text>
<text x="334.2" y="55.8" font-size="20.8" fill="#002050" text-anchor="middle" xml:space="preserve">2026-04-06 00 UTC  (2026-04-05 18 MDT)</text>
<text x="172.5" y="86" font-size="13.9" fill="#002050" text-anchor="end">LCL Height:</text>
<text x="177" y="86" font-size="13.9" fill="#002050">1462.0 m</text>
<text x="172.5" y="104" font-size="13.9" fill="#002050" text-anchor="end">LFC Height:</text>
<text x="177" y="104" font-size="13.9" fill="#002050">nan m</text>
<text x="172.5" y="122" font-size="13.9" fill="#002050" text-anchor="end">MLLR:</text>
<text x="177" y="122" font-size="13.9" fill="#002050">6.0 K</text>
<text x="172.5" y="140" font-size="13.9" fill="#002050" text-anchor="end">SBCAPE:</text>
<text x="177" y="140" font-size="13.9" fill="#002050">0.0 J/kg</text>
<text x="172.5" y="158" font-size="13.9" fill="#002050" text-anchor="end">SBCIN:</text>
<text x="177" y="158" font-size="13.9" fill="#002050">0.0 J/kg</text>
<text x="172.5" y="176" font-size="13.9" fill="#002050" text-anchor="end">MLCAPE:</text>
<text x="177" y="176" font-size="13.9" fill="#002050">0.0 J/kg</text>
<text x="172.5" y="194" font-size="13.9" fill="#002050" text-anchor="end">MLCIN:</text>
<text x="177" y="194" font-size="13.9" fill="#002050">0.0 J/kg</text>
<text x="172.5" y="212" font-size="13.9" fill="#002050" text-anchor="end">MUCAPE:</text>
<text x="177" y="212" font-size="13.9" fill="#002050">0.0 J/kg</text>
<text x="172.5" y="230" font-size="13.9" fill="#002050" text-anchor="end">Shear 0-1 km:</text>
<text x="177" y="230" font-size="13.9" fill="#002050">7.3 m/s</text>
<text x="172.5" y="248" font-size="13.9" fill="#002050" text-anchor="end">Shear 0-6 km:</text>
<text x="177" y="248" font-size="13.9" fill="#002050">34.1 m/s</text>
<text x="172.5" y="266" font-size="13.9" fill="#002050" text-anchor="end">SRH 0-1 km:</text>
<text x="177" y="266" font-size="13.9" fill="#002050">-116.5 m²/s²</text>
<text x="172.5" y="284" font-size="13.9" fill="#002050" text-anchor="end">SRH 0-3 km:</text>
<text x="177" y="284" font-size="13.9" fill="#002050">-188.9 m²/s²</text>
<text x="335" y="834.5" font-size="13.9" fill="#002050" text-anchor="middle">Sun-MDT</text>
<polygon points="605.0,67.4 572.2,57.3 580.4,45.4 580.4,59.8" fill="#002050" stroke="#002050" stroke-width="1.6" stroke-linejoin="round"/>
<polygon points="605.0,120.8 572.6,109.4 581.2,97.9 580.7,112.3 584.8,113.7 585.0,106.5 584.8,113.7" fill="#002050" stroke="#002050" stroke-width="1.6" stroke-linejoin="round"/>
<polygon points="605.0,173.8 573.5,160.2 582.9,149.3 581.4,163.6 585.3,165.3 586.8,151.0 585.3,165.3" fill="#002050" stroke="#002050" stroke-width="1.6" stroke-linejoin="round"/>
<polygon points="605.0,227.0 574.8,210.7 585.1,200.7 582.4,214.8 586.1,216.8 588.9,202.7 586.1,216.8 589.9,218.8 591.3,211.8 589.9,218.8" fill="#002050" stroke="#002050" stroke-width="1.6" stroke-linejoin="round"/>
<polygon points="605.0,280.5 574.7,264.3 585.0,254.3 582.3,268.4 586.1,270.4 588.8,256.3 586.1,270.4 589.9,272.4 592.6,258.3 589.9,272.4 593.7,274.4 595.0,267.4 593.7,274.4" fill="#002050" stroke="#002050" stroke-width="1.6" stroke-linejoin="round"/>
<polygon points="605.0,333.3 576.5,314.2 587.7,305.2 583.6,319.0 587.2,321.3 591.3,307.6 587.2,321.3 590.8,323.7 594.9,310.0 590.8,323.7 594.3,326.1 598.4,312.3 594.3,326.1 597.9,328.5 599.9,321.6 597.9,328.5" fill="#002050" stroke="#002050" stroke-width="1.6" stroke-linejoin="round"/>
<polygon points="605.0,382.3 577.1,362.4 588.5,353.7 584.1,367.4 587.5,369.9 592.0,356.2 587.5,369.9 591.0,372.3 595.5,358.7 591.0,372.3 594.5,374.8 599.0,361.2 594.5,374.8 598.0,377.3 602.5,363.7 598.0,377.3" fill="#002050" stroke="#002050" stroke-width="1.6" stroke-linejoin="round"/>
<polygon points="605.0,426.3 576.8,406.7 588.2,397.9 583.9,411.6 587.4,414.1 591.7,400.4 587.4,414.1 590.9,416.5 595.2,402.8 590.9,416.5 594.4,419.0 598.7,405.2 594.4,419.0" fill="#002050" stroke="#002050" stroke-width="1.6" stroke-linejoin="round"/>
<polygon points="605.0,465.9 576.7,446.6 587.9,437.7 583.7,451.4 587.3,453.8 591.5,440.1 587.3,453.8 590.8,456.2 595.0,442.5 590.8,456.2 594.4,458.7 596.5,451.8 594.4,458.7" fill="#002050" stroke="#002050" stroke-width="1.6" stroke-linejoin="round"/>
<polygon points="605.0,501.3 576.4,482.3 587.6,473.3 583.6,487.1 587.1,489.4 591.2,475.6 587.1,489.4 590.7,491.8 594.7,478.0 590.7,491.8 594.3,494.2 596.3,487.3 594.3,494.2" fill="#002050" stroke="#002050" stroke-width="1.6" stroke-linejoin="round"/>
<polygon points="605.0,533.4 576.1,515.0 587.1,505.7 583.3,519.6 586.9,521.9 590.7,508.0 586.9,521.9 590.5,524.2 594.3,510.3 590.5,524.2" fill="#002050" stroke="#002050" stroke-width="1.6" stroke-linejoin="round"/>
<polygon points="605.0,562.2 575.4,544.8 586.1,535.1 582.8,549.1 586.5,551.3 589.8,537.3 586.5,551.3 590.2,553.5 593.5,539.5 590.2,553.5" fill="#002050" stroke="#002050" stroke-width="1.6" stroke-linejoin="round"/>
<polygon points="605.0,588.1 575.1,571.2 585.6,561.4 582.6,575.4 586.3,577.5 589.4,563.5 586.3,577.5 590.1,579.7 591.6,572.6 590.1,579.7" fill="#002050" stroke="#002050" stroke-width="1.6" stroke-linejoin="round"/>
<polygon points="605.0,612.0 575.1,595.1 585.6,585.3 582.6,599.3 586.3,601.4 589.4,587.4 586.3,601.4" fill="#002050" stroke="#002050" stroke-width="1.6" stroke-linejoin="round"/>
<polygon points="605.0,653.1 576.7,633.7 588.0,624.8 583.8,638.5" fill="#002050" stroke="#002050" stroke-width="1.6" stroke-linejoin="round"/>
<polygon points="605.0,686.5 575.1,669.6 578.2,655.6 575.1,669.6 578.9,671.7 581.9,657.7 578.9,671.7 582.6,673.8 585.6,659.8 582.6,673.8 586.3,675.9 589.4,661.9 586.3,675.9 590.1,678.1 591.6,671.0 590.1,678.1" fill="#002050" stroke="#002050" stroke-width="1.6" stroke-linejoin="round"/>
<polygon points="605.0,714.2 573.9,699.8 575.8,685.5 573.9,699.8 577.8,701.6 579.7,687.3 577.8,701.6 581.7,703.4 583.6,689.1 581.7,703.4 585.6,705.2 586.5,698.0 585.6,705.2" fill="#002050" stroke="#002050" stroke-width="1.6" stroke-linejoin="round"/>
<polygon points="605.0,737.4 575.2,720.4 578.3,706.3 575.2,720.4 579.0,722.5 582.1,708.4 579.0,722.5 582.7,724.6 585.8,710.6 582.7,724.6 586.4,726.7 587.9,719.7 586.4,726.7" fill="#002050" stroke="#002050" stroke-width="1.6" stroke-linejoin="round"/>
<polygon points="605.0,755.0 578.0,733.9 583.0,720.4 578.0,733.9 581.3,736.5 586.4,723.1 581.3,736.5 584.7,739.2 589.8,725.7 584.7,739.2" fill="#002050" stroke="#002050" stroke-width="1.6" stroke-linejoin="round"/>
<polygon points="605.0,772.5 585.6,744.2 594.5,732.9 585.6,744.2 588.0,747.8 596.9,736.5 588.0,747.8 590.4,751.3 594.9,745.6 590.4,751.3" fill="#002050" stroke="#002050" stroke-width="1.6" stroke-linejoin="round"/>
<polygon points="605.0,786.5 595.0,753.7 606.8,745.6 595.0,753.7 596.2,757.8 608.1,749.7 596.2,757.8" fill="#002050" stroke="#002050" stroke-width="1.6" stroke-linejoin="round"/>
<polygon points="605.0,797.5 600.6,763.5 613.6,757.5 600.6,763.5 601.1,767.7 607.7,764.7 601.1,767.7" fill="#002050" stroke="#002050" stroke-width="1.6" stroke-linejoin="round"/>
<polygon points="605.0,807.0 614.7,774.1 629.1,773.9 614.7,774.1" fill="#002050" stroke="#002050" stroke-width="1.6" stroke-linejoin="round"/>
<polygon points="605.0,815.0 614.9,782.1 629.2,782.0 614.9,782.1" fill="#002050" stroke="#002050" stroke-width="1.6" stroke-linejoin="round"/>
<polygon points="605.0,821.0 615.0,788.2 629.4,788.1 615.0,788.2" fill="#002050" stroke="#002050" stroke-width="1.6" stroke-linejoin="round"/>
<polygon points="605.0,827.0 615.1,794.2 629.5,794.2 615.1,794.2" fill="#002050" stroke="#002050" stroke-width="1.6" stroke-linejoin="round"/>
<polygon points="605.0,831.0 615.3,798.3 629.6,798.3 615.3,798.3" fill="#002050" stroke="#002050" stroke-width="1.6" stroke-linejoin="round"/>
<line x1="564" x2="605.25" y1="64.9" y2="64.9" stroke="#fff" stroke-width="0.8"/>
<circle cx="334.8" cy="871.3" r="21.7" fill="#002050" stroke="#9a9a9a" stroke-width="1"/>
<line x1="335.5" x2="335.5" y1="849.6" y2="886.1" stroke="#fff" stroke-width="1.2"/>
<g clip-path="url(#hd)">
<circle cx="784.75" cy="176.95" r="23.61" fill="none" stroke="#808080" stroke-width="1.3" stroke-dasharray="5.14 2.22"/>
<circle cx="784.75" cy="176.95" r="47.23" fill="none" stroke="#808080" stroke-width="1.3" stroke-dasharray="5.14 2.22"/>
<circle cx="784.75" cy="176.95" r="70.84" fill="none" stroke="#808080" stroke-width="1.3" stroke-dasharray="5.14 2.22"/>
<circle cx="784.75" cy="176.95" r="94.45" fill="none" stroke="#808080" stroke-width="1.3" stroke-dasharray="5.14 2.22"/>
<circle cx="784.75" cy="176.95" r="118.06" fill="none" stroke="#808080" stroke-width="1.3" stroke-dasharray="5.14 2.22"/>
<line x1="690.3" x2="879.1999999999999" y1="176.95" y2="176.95" stroke="#808080" stroke-width="2.08" stroke-dasharray="7.7 3.33"/>
<line x1="784.75" x2="784.75" y1="82.5" y2="271.4" stroke="#808080" stroke-width="2.08" stroke-dasharray="7.7 3.33"/>
<line x1="780.1" y1="189.4" x2="783.6" y2="191.3" stroke="#00008c" stroke-width="4" stroke-linecap="butt"/>
<line x1="783.6" y1="191.3" x2="786.8" y2="194.6" stroke="#0000a8" stroke-width="4" stroke-linecap="round"/>
<line x1="786.8" y1="194.6" x2="789.4" y2="198.4" stroke="#0000c4" stroke-width="4" stroke-linecap="round"/>
<line x1="789.4" y1="198.4" x2="792.0" y2="201.7" stroke="#0000d8" stroke-width="4" stroke-linecap="round"/>
<line x1="792.0" y1="201.7" x2="794.6" y2="203.6" stroke="#0000e4" stroke-width="4" stroke-linecap="round"/>
<line x1="794.6" y1="203.6" x2="797.8" y2="204.3" stroke="#0000ec" stroke-width="4" stroke-linecap="round"/>
<line x1="797.8" y1="204.3" x2="801.0" y2="203.0" stroke="#0000f4" stroke-width="4" stroke-linecap="round"/>
<line x1="801.0" y1="203.0" x2="804.3" y2="200.8" stroke="#0000ff" stroke-width="4" stroke-linecap="round"/>
<line x1="804.3" y1="200.8" x2="807.5" y2="199.1" stroke="#0008ff" stroke-width="4" stroke-linecap="round"/>
<line x1="807.5" y1="199.1" x2="811.4" y2="198.4" stroke="#0014ff" stroke-width="4" stroke-linecap="round"/>
<line x1="811.4" y1="198.4" x2="815.9" y2="198.2" stroke="#0028ff" stroke-width="4" stroke-linecap="round"/>
<line x1="815.9" y1="198.2" x2="819.8" y2="197.4" stroke="#0040ff" stroke-width="4" stroke-linecap="round"/>
<line x1="819.8" y1="197.4" x2="823.3" y2="196.3" stroke="#0060ff" stroke-width="4" stroke-linecap="round"/>
<line x1="823.3" y1="196.3" x2="826.3" y2="196.9" stroke="#0088ff" stroke-width="4" stroke-linecap="round"/>
<line x1="826.3" y1="196.9" x2="828.2" y2="199.1" stroke="#00a4ff" stroke-width="4" stroke-linecap="round"/>
<line x1="828.2" y1="199.1" x2="829.5" y2="202.3" stroke="#00b8ff" stroke-width="4" stroke-linecap="round"/>
<line x1="829.5" y1="202.3" x2="830.1" y2="206.2" stroke="#00ccff" stroke-width="4" stroke-linecap="round"/>
<line x1="830.1" y1="206.2" x2="831.4" y2="209.1" stroke="#10e4f0" stroke-width="4" stroke-linecap="round"/>
<line x1="831.4" y1="209.1" x2="834.0" y2="211.1" stroke="#28ffd0" stroke-width="4" stroke-linecap="round"/>
<line x1="834.0" y1="211.1" x2="837.9" y2="212.0" stroke="#40ffb8" stroke-width="4" stroke-linecap="round"/>
<line x1="837.9" y1="212.0" x2="842.4" y2="212.3" stroke="#58ffa0" stroke-width="4" stroke-linecap="round"/>
<line x1="842.4" y1="212.3" x2="846.9" y2="212.7" stroke="#78ff80" stroke-width="4" stroke-linecap="round"/>
<line x1="846.9" y1="212.7" x2="850.8" y2="213.7" stroke="#90ff68" stroke-width="4" stroke-linecap="round"/>
<line x1="850.8" y1="213.7" x2="854.1" y2="215.9" stroke="#b0ff48" stroke-width="4" stroke-linecap="round"/>
<line x1="854.1" y1="215.9" x2="856.4" y2="218.9" stroke="#d0ff28" stroke-width="4" stroke-linecap="round"/>
<line x1="856.4" y1="218.9" x2="857.9" y2="222.4" stroke="#f0f000" stroke-width="4" stroke-linecap="round"/>
<line x1="857.9" y1="222.4" x2="859.2" y2="225.6" stroke="#ffd000" stroke-width="4" stroke-linecap="round"/>
<line x1="859.2" y1="225.6" x2="861.2" y2="228.2" stroke="#ffa800" stroke-width="4" stroke-linecap="round"/>
<line x1="861.2" y1="228.2" x2="864.4" y2="231.4" stroke="#ff8000" stroke-width="4" stroke-linecap="round"/>
<line x1="864.4" y1="231.4" x2="868.3" y2="234.9" stroke="#ff5800" stroke-width="4" stroke-linecap="round"/>
<line x1="868.3" y1="234.9" x2="872.2" y2="238.3" stroke="#f02800" stroke-width="4" stroke-linecap="round"/>
<line x1="872.2" y1="238.3" x2="873.5" y2="239.4" stroke="#a00000" stroke-width="4" stroke-linecap="round"/>
<line x1="690.3" x2="784.75" y1="271.4" y2="271.4" stroke="#002050" stroke-width="5.4"/>
</g>
<line x1="690.5" x2="690.5" y1="82.5" y2="271.9" stroke="#002050" stroke-width="1.1"/>
<line x1="690.3" x2="879.6999999999999" y1="271.5" y2="271.5" stroke="#002050" stroke-width="1.1"/>
<line x1="690.5" x2="690.5" y1="271.4" y2="276.6" stroke="#002050" stroke-width="1.1"/>
<text x="690.6" y="291.7" font-size="13.9" fill="#002050" text-anchor="middle">−40</text>
<line x1="685.4" x2="690.3" y1="271.5" y2="271.5" stroke="#002050" stroke-width="1.1"/>
<text x="680.2" y="276.5" font-size="13.9" fill="#002050" text-anchor="end">−40</text>
<line x1="737.5" x2="737.5" y1="271.4" y2="276.6" stroke="#002050" stroke-width="1.1"/>
<text x="737.8" y="291.7" font-size="13.9" fill="#002050" text-anchor="middle">−20</text>
<line x1="685.4" x2="690.3" y1="224.5" y2="224.5" stroke="#002050" stroke-width="1.1"/>
<text x="680.2" y="229.3" font-size="13.9" fill="#002050" text-anchor="end">−20</text>
<line x1="784.5" x2="784.5" y1="271.4" y2="276.6" stroke="#002050" stroke-width="1.1"/>
<text x="785.0" y="291.7" font-size="13.9" fill="#002050" text-anchor="middle">0</text>
<line x1="685.4" x2="690.3" y1="176.5" y2="176.5" stroke="#002050" stroke-width="1.1"/>
<text x="680.2" y="182.0" font-size="13.9" fill="#002050" text-anchor="end">0</text>
<line x1="831.5" x2="831.5" y1="271.4" y2="276.6" stroke="#002050" stroke-width="1.1"/>
<text x="832.3" y="291.7" font-size="13.9" fill="#002050" text-anchor="middle">20</text>
<line x1="685.4" x2="690.3" y1="129.5" y2="129.5" stroke="#002050" stroke-width="1.1"/>
<text x="680.2" y="134.8" font-size="13.9" fill="#002050" text-anchor="end">20</text>
<line x1="879.5" x2="879.5" y1="271.4" y2="276.6" stroke="#002050" stroke-width="1.1"/>
<text x="879.5" y="291.7" font-size="13.9" fill="#002050" text-anchor="middle">40</text>
<line x1="685.4" x2="690.3" y1="82.5" y2="82.5" stroke="#002050" stroke-width="1.1"/>
<text x="680.2" y="87.6" font-size="13.9" fill="#002050" text-anchor="end">40</text>
<text x="784.5" y="306.5" font-size="13.9" fill="#002050" text-anchor="middle">u (m s<tspan font-size="9.7" dy="-5.5">−1</tspan><tspan dy="5.5">)</tspan></text>
<text transform="translate(649.5,177) rotate(-90)" font-size="13.9" fill="#002050" text-anchor="middle">v (m s<tspan font-size="9.7" dy="-5.5">−1</tspan><tspan dy="5.5">)</tspan></text>
<rect x="650.3" y="312.2" width="270.2" height="13.2" fill="url(#jet)" stroke="#002050" stroke-width="1.1"/>
<line x1="650.3" x2="650.3" y1="325.4" y2="330.6" stroke="#002050" stroke-width="1.1"/>
<text x="650.3" y="345.7" font-size="13.9" fill="#002050" text-anchor="middle">0</text>
<line x1="704.3" x2="704.3" y1="325.4" y2="330.6" stroke="#002050" stroke-width="1.1"/>
<text x="704.3" y="345.7" font-size="13.9" fill="#002050" text-anchor="middle">2</text>
<line x1="758.4" x2="758.4" y1="325.4" y2="330.6" stroke="#002050" stroke-width="1.1"/>
<text x="758.4" y="345.7" font-size="13.9" fill="#002050" text-anchor="middle">4</text>
<line x1="812.4" x2="812.4" y1="325.4" y2="330.6" stroke="#002050" stroke-width="1.1"/>
<text x="812.4" y="345.7" font-size="13.9" fill="#002050" text-anchor="middle">6</text>
<line x1="866.5" x2="866.5" y1="325.4" y2="330.6" stroke="#002050" stroke-width="1.1"/>
<text x="866.5" y="345.7" font-size="13.9" fill="#002050" text-anchor="middle">8</text>
<line x1="920.5" x2="920.5" y1="325.4" y2="330.6" stroke="#002050" stroke-width="1.1"/>
<text x="920.5" y="345.7" font-size="13.9" fill="#002050" text-anchor="middle">10</text>
<text x="784.5" y="365.5" font-size="13.9" fill="#002050" text-anchor="middle">Height (km AGL)</text>
</svg>
</body></html>
